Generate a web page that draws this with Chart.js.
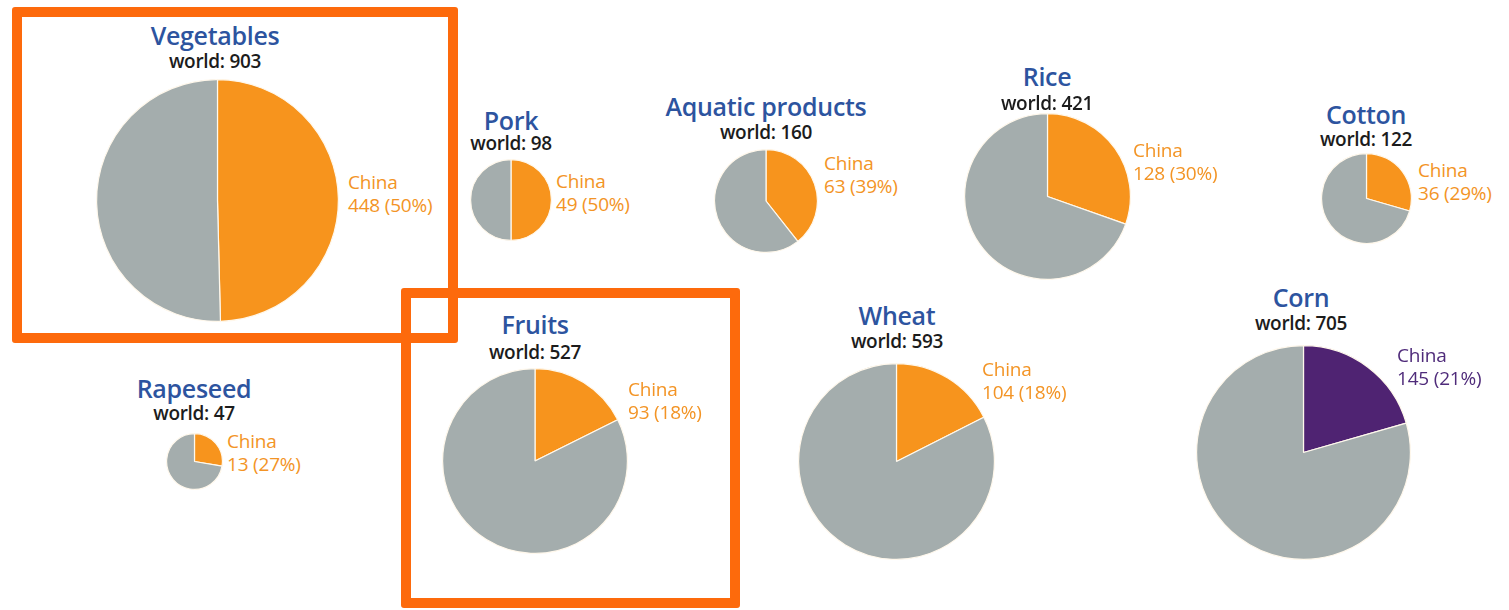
<!DOCTYPE html>
<html>
<head>
<meta charset="utf-8">
<script src="https://cdn.jsdelivr.net/npm/chart.js@4/dist/chart.umd.min.js"></script>
<style>
  html, body { margin: 0; padding: 0; background: #fff; }
  #stage { position: relative; width: 1509px; height: 610px; overflow: hidden; font-family: "Open Sans", sans-serif; }
  .lbl { position: absolute; line-height: 1; white-space: nowrap; }
  .title { font-size: 25px; font-weight: 600; color: #2d549f; transform: translate(-50%, -50%); letter-spacing: -0.3px; }
  .world { font-size: 19px; font-weight: 600; color: #1c1c1c; transform: translate(-50%, -50%); letter-spacing: -0.3px; }
  .china { font-size: 19px; font-weight: 400; transform: translate(0, -50%); letter-spacing: -0.2px; }
  .box { position: absolute; box-sizing: border-box; border: 10px solid #fd6a0c; border-radius: 3px; }
  canvas { position: absolute; }
</style>
</head>
<body>
<div id="stage"></div>
<script>
// production, million tonnes
const crops = ["Vegetables", "Pork", "Aquatic products", "Rice", "Cotton", "Rapeseed", "Fruits", "Wheat", "Corn"]
const worldTotals = [903, 98, 160, 421, 122, 47, 527, 593, 705]
const chinaValues = [448, 49, 63, 128, 36, 13, 93, 104, 145]
const chinaShares = [50, 50, 39, 30, 29, 27, 18, 18, 21]

const ORANGE = "#f7941d"
const PURPLE = "#4f2372"
const GRAY = "#a4adad"
const chinaColors = [ORANGE, ORANGE, ORANGE, ORANGE, ORANGE, ORANGE, ORANGE, ORANGE, PURPLE]
const chinaTextColors = ["#f39425", "#f39425", "#f39425", "#f39425", "#f39425", "#f39425", "#f39425", "#f39425", "#4f2b7a"]

// where each pie sits on the page (pie centre, title line, world line, China label)
const layout = [
  { cx: 217, cy: 200, tx: 215, ty: 35, wy: 61, lx: 348, ly: 182 },
  { cx: 511, cy: 200, tx: 511, ty: 120, wy: 143, lx: 556, ly: 181 },
  { cx: 766, cy: 201, tx: 766, ty: 106, wy: 132, lx: 824, ly: 163 },
  { cx: 1047, cy: 196, tx: 1047, ty: 76, wy: 103, lx: 1133, ly: 150 },
  { cx: 1366, cy: 198, tx: 1366, ty: 114, wy: 139, lx: 1418, ly: 170 },
  { cx: 194, cy: 461, tx: 194, ty: 388, wy: 413, lx: 227, ly: 441 },
  { cx: 535, cy: 461, tx: 535, ty: 324, wy: 352, lx: 628, ly: 389 },
  { cx: 896, cy: 461, tx: 897, ty: 315, wy: 341, lx: 982, ly: 369 },
  { cx: 1303, cy: 452, tx: 1301, ty: 297, wy: 323, lx: 1397, ly: 355 }
]

const stage = document.getElementById("stage")

function addText(cls, text, x, y, color) {
  const el = document.createElement("div")
  el.className = "lbl " + cls
  el.textContent = text
  el.style.left = x + "px"
  el.style.top = y + "px"
  if (color) el.style.color = color
  stage.appendChild(el)
}

crops.forEach((name, i) => {
  const pos = layout[i]
  // pie area proportional to world total
  const r = 4 * Math.sqrt(worldTotals[i])
  const pad = 2
  const size = Math.ceil(2 * (r + pad))

  const canvas = document.createElement("canvas")
  canvas.width = size
  canvas.height = size
  canvas.style.width = size + "px"
  canvas.style.height = size + "px"
  canvas.style.left = (pos.cx - size / 2) + "px"
  canvas.style.top = (pos.cy - size / 2) + "px"
  stage.appendChild(canvas)

  new Chart(canvas, {
    type: "pie",
    data: {
      labels: ["China", "Rest of world"],
      datasets: [{
        data: [chinaValues[i], worldTotals[i] - chinaValues[i]],
        backgroundColor: [chinaColors[i], GRAY],
        borderColor: "#fff8ec",
        borderWidth: 1.2
      }]
    },
    options: {
      responsive: false,
      animation: false,
      layout: { padding: pad - 1 },
      plugins: {
        legend: { display: false },
        tooltip: { enabled: false }
      }
    }
  })

  addText("title", name, pos.tx, pos.ty)
  addText("world", "world: " + worldTotals[i], pos.tx, pos.wy)
  addText("china", "China", pos.lx, pos.ly, chinaTextColors[i])
  addText("china", chinaValues[i] + " (" + chinaShares[i] + "%)", pos.lx, pos.ly + 23, chinaTextColors[i])
})

// highlight boxes
const boxes = [
  { x: 12, y: 7, w: 446, h: 336 },
  { x: 401, y: 288, w: 339, h: 320 }
]
boxes.forEach(b => {
  const el = document.createElement("div")
  el.className = "box"
  el.style.left = b.x + "px"
  el.style.top = b.y + "px"
  el.style.width = b.w + "px"
  el.style.height = b.h + "px"
  stage.appendChild(el)
})
</script>
</body>
</html>
